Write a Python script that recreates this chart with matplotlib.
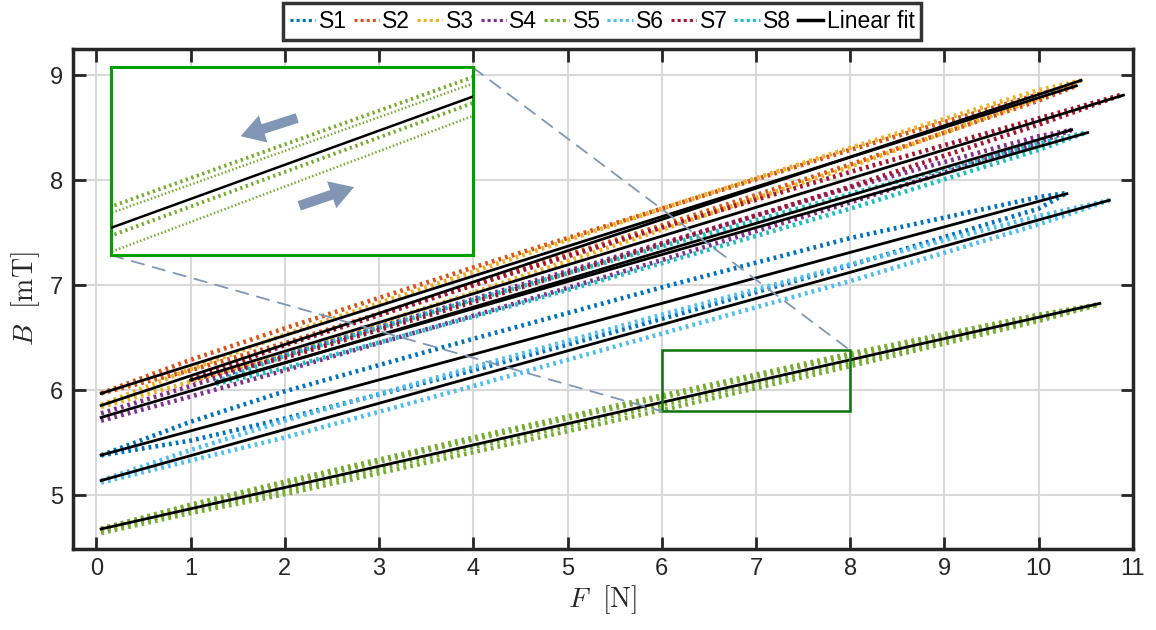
import numpy as np
import matplotlib
matplotlib.use('Agg')
import matplotlib.pyplot as plt
from matplotlib.patches import Rectangle, FancyArrowPatch, ConnectionPatch
from matplotlib.lines import Line2D

plt.rcParams['font.family'] = ['Liberation Sans', 'DejaVu Sans']
plt.rcParams['mathtext.fontset'] = 'cm'

# ---------------- data ----------------
series_names = ['S1', 'S2', 'S3', 'S4', 'S5', 'S6', 'S7', 'S8']
series_colors = ['#0072BD', '#D95319', '#EDB120', '#7E2F8E',
                 '#77AC30', '#4DBEEE', '#A2142F', '#1ABFBF']

x_ticks = [0, 1, 2, 3, 4, 5, 6, 7, 8, 9, 10, 11]
y_ticks = [5, 6, 7, 8, 9]

# S1
s1_force = [0.05, 1, 2, 4, 6, 8, 10, 10.3]
s1_unload = [5.38, 5.70, 5.99, 6.49, 6.98, 7.45, 7.84, 7.88]
s1_load = [5.38, 5.52, 5.73, 6.19, 6.68, 7.19, 7.73, 7.88]
# S2
s2_force = [0.05, 1, 2, 4, 6, 8, 10, 10.4]
s2_unload = [5.97, 6.29, 6.59, 7.17, 7.73, 8.29, 8.82, 8.90]
s2_load = [5.97, 6.19, 6.45, 7.01, 7.57, 8.15, 8.76, 8.90]
# S3
s3_force = [0.05, 1, 2, 4, 6, 8, 10, 10.45]
s3_unload = [5.86, 6.20, 6.53, 7.13, 7.73, 8.31, 8.86, 8.95]
s3_load = [5.84, 6.08, 6.35, 6.93, 7.53, 8.13, 8.78, 8.95]
# S4
s4_force = [0.05, 1, 2, 4, 6, 8, 10, 10.35]
s4_unload = [5.78, 6.04, 6.33, 6.87, 7.40, 7.93, 8.42, 8.48]
s4_load = [5.71, 5.94, 6.19, 6.71, 7.24, 7.79, 8.36, 8.48]
# S5 (two cycles per branch)
s5_force = [0.05, 1, 2, 4, 6, 8, 10, 10.65]
s5_unload = [4.68, 4.91, 5.13, 5.55, 5.95, 6.35, 6.72, 6.82]
s5_unload2 = [4.68, 4.90, 5.11, 5.53, 5.93, 6.33, 6.71, 6.82]
s5_load = [4.66, 4.86, 5.05, 5.46, 5.86, 6.27, 6.68, 6.82]
s5_load2 = [4.64, 4.83, 5.01, 5.41, 5.81, 6.23, 6.66, 6.82]
# S6
s6_force = [0.05, 1, 2, 4, 6, 8, 10, 10.75]
s6_unload = [5.14, 5.43, 5.71, 6.22, 6.72, 7.20, 7.66, 7.81]
s6_load = [5.12, 5.33, 5.55, 6.04, 6.54, 7.04, 7.58, 7.81]
# S7
s7_force = [1.0, 2, 4, 6, 8, 10, 10.9]
s7_unload = [6.10, 6.43, 7.00, 7.55, 8.08, 8.59, 8.82]
s7_load = [6.10, 6.31, 6.84, 7.39, 7.94, 8.53, 8.82]
# S8
s8_force = [1.27, 2, 4, 6, 8, 10, 10.52]
s8_unload = [6.08, 6.33, 6.86, 7.37, 7.87, 8.35, 8.46]
s8_load = [6.06, 6.21, 6.70, 7.21, 7.73, 8.29, 8.46]

# zoom window (main axes data coords)
zoom_f = [6, 8]
zoom_b = [5.8, 6.38]

series = [
    (s1_force, [s1_unload, s1_load]),
    (s2_force, [s2_unload, s2_load]),
    (s3_force, [s3_unload, s3_load]),
    (s4_force, [s4_unload, s4_load]),
    (s5_force, [s5_unload, s5_unload2, s5_load, s5_load2]),
    (s6_force, [s6_unload, s6_load]),
    (s7_force, [s7_unload, s7_load]),
    (s8_force, [s8_unload, s8_load]),
]

# ---------------- figure ----------------
fig = plt.figure(figsize=(11.56, 6.30), dpi=100)
ax = fig.add_axes([0.063, 0.129, 0.917, 0.793])

dot = (0, (0.6, 0.9))
fits = []
for (f, branches), col in zip(series, series_colors):
    for b in branches:
        ax.plot(f, b, linestyle=dot, color=col, lw=3.3, zorder=2)
    fa = np.concatenate([f for _ in branches])
    ba = np.concatenate(branches)
    k, c = np.polyfit(fa, ba, 1)
    fits.append((f[0], f[-1], k, c))

for f0, f1, k, c in fits:
    ax.plot([f0, f1], [k * f0 + c, k * f1 + c], color='black', lw=2.0, zorder=3)

ax.set_xlim(-0.25, 11)
ax.set_ylim(4.49, 9.25)
ax.set_xticks(x_ticks)
ax.set_yticks(y_ticks)
ax.grid(True, color='#d9d9d9', lw=1.5)
ax.set_axisbelow(True)
ax.tick_params(direction='in', length=9, width=2, top=True, right=True,
               labelsize=17, pad=7, colors='#262626')
for sp in ax.spines.values():
    sp.set_linewidth(2.5)
    sp.set_color('#262626')
ax.set_xlabel(r'$F\ \ [\mathrm{N}]$', fontsize=20, labelpad=2, color='#262626')
ax.set_ylabel(r'$B\ \ [\mathrm{mT}]$', fontsize=20, labelpad=6, color='#262626')

ax.add_patch(Rectangle((zoom_f[0], zoom_b[0]), zoom_f[1] - zoom_f[0],
                       zoom_b[1] - zoom_b[0], fill=False, ec='#0B730B',
                       lw=1.8, zorder=6))

# ---------------- inset ----------------
ax_in = fig.add_axes([0.096, 0.595, 0.313, 0.298], zorder=5)
ax_in.set_facecolor('white')
f5, br5 = series[4]
inset_lw = [2.8, 1.8, 2.8, 1.8]
for b, lw in zip(br5, inset_lw):
    ax_in.plot(f5, b, linestyle=(0, (0.6, 0.9)), color=series_colors[4],
               lw=lw, zorder=2)
f0, f1, k, c = fits[4]
ax_in.plot([f0, f1], [k * f0 + c, k * f1 + c], color='black', lw=1.8, zorder=3)
ax_in.set_xlim(zoom_f)
ax_in.set_ylim(zoom_b)
ax_in.set_xticks([])
ax_in.set_yticks([])
for sp in ax_in.spines.values():
    sp.set_linewidth(2.2)
    sp.set_color('#00A000')

arrow_col = '#8096B4'
for tail, head in [((0.522, 0.735), (0.351, 0.629)),
                   ((0.513, 0.258), (0.679, 0.367))]:
    ax_in.add_patch(FancyArrowPatch(
        tail, head, transform=ax_in.transAxes,
        arrowstyle='simple,head_length=1.0,head_width=1.2,tail_width=0.42',
        mutation_scale=17, color=arrow_col, lw=0, zorder=4))

for pa, pb in [((1, 1), (zoom_f[1], zoom_b[1])),
               ((0, 0), (zoom_f[0], zoom_b[0]))]:
    con = ConnectionPatch(xyA=pa, coordsA=ax_in.transAxes,
                          xyB=pb, coordsB=ax.transData,
                          color=arrow_col, lw=1.3, linestyle=(0, (7, 5)),
                          zorder=4)
    fig.add_artist(con)

# ---------------- legend ----------------
handles = [Line2D([], [], color=c, linestyle=(0, (1, 1)), lw=2.2)
           for c in series_colors]
handles.append(Line2D([], [], color='black', lw=2.5))
labels = series_names + ['Linear fit']
leg = fig.legend(handles, labels, loc='upper center',
                 bbox_to_anchor=(0.521, 1.0), ncol=9, fontsize=16.5,
                 handlelength=1.1, handletextpad=0.15, columnspacing=0.3,
                 borderpad=0.3, borderaxespad=0.15, frameon=True, fancybox=False)
leg.get_frame().set_edgecolor('black')
leg.get_frame().set_linewidth(2.5)

fig.savefig('out.png', dpi=100, facecolor='white')
